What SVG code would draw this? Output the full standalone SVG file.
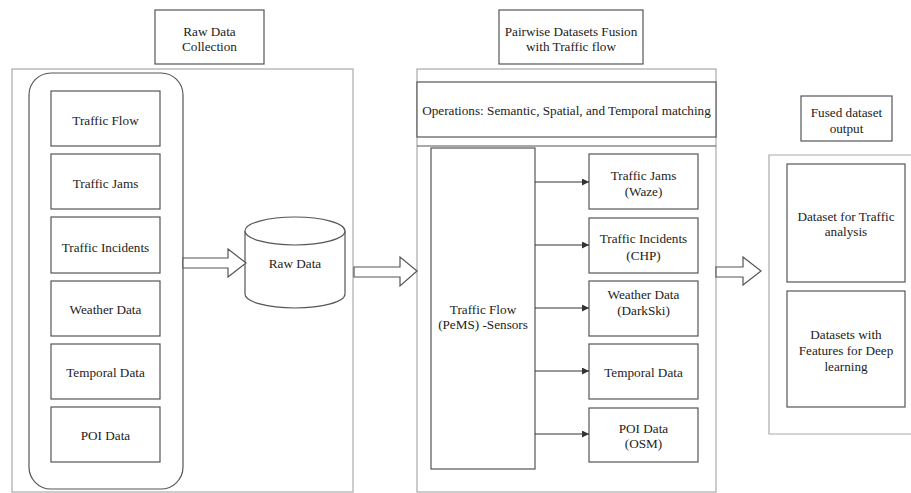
<svg xmlns="http://www.w3.org/2000/svg" width="911" height="493" viewBox="0 0 911 493">
<style>
text{font-family:"Liberation Serif","Times New Roman",serif;font-size:13.2px;fill:#222;text-anchor:middle}
.panel{fill:#fff;stroke:#aaa;stroke-width:1.2}
.box{fill:#fff;stroke:#555;stroke-width:1.2}
.conn{fill:none;stroke:#333;stroke-width:1}
.block{fill:#fff;stroke:#555;stroke-width:1.2;stroke-linejoin:miter}
</style>
<defs>
<marker id="ah" viewBox="0 0 10 10" refX="10" refY="5" markerWidth="7" markerHeight="7" orient="auto" markerUnits="userSpaceOnUse">
<path d="M0,0 L10,5 L0,10 z" fill="#333"/>
</marker>
</defs>
<rect width="911" height="493" fill="#fff"/>

<g id="panel-raw">
<rect class="panel" x="12" y="69" width="341" height="423"/>
<rect class="box" x="29" y="73" width="154" height="416" rx="22" ry="22"/>
</g>
<g id="title-raw"><rect class="box" x="155" y="10" width="109" height="54"/><text x="209.5" y="35.5">Raw Data</text><text x="209.5" y="50.5">Collection</text></g>
<g id="n-flow"><rect class="box" x="51" y="91" width="109" height="55"/><text x="105.5" y="124.5">Traffic Flow</text></g>
<g id="n-jams"><rect class="box" x="51" y="154" width="109" height="55"/><text x="105.5" y="187.5">Traffic Jams</text></g>
<g id="n-incidents"><rect class="box" x="51" y="217" width="109" height="56"/><text x="105.5" y="251.5">Traffic Incidents</text></g>
<g id="n-weather"><rect class="box" x="51" y="281" width="109" height="55"/><text x="105.5" y="313.5">Weather Data</text></g>
<g id="n-temporal"><rect class="box" x="51" y="344" width="109" height="55"/><text x="105.5" y="376.5">Temporal Data</text></g>
<g id="n-poi"><rect class="box" x="51" y="407" width="109" height="55"/><text x="105.5" y="439.5">POI Data</text></g>

<g id="n-rawdata">
<path class="box" d="M245,231 L245,294 A50,14 0 0 0 345,294 L345,231"/>
<ellipse class="box" cx="295" cy="231" rx="50" ry="14"/>
<text x="295" y="267.5">Raw Data</text>
</g>

<g id="panel-fusion">
<rect class="panel" x="417" y="69" width="299" height="423"/>
<line x1="417" y1="146" x2="716" y2="146" stroke="#555" stroke-width="1.2"/>
</g>
<g id="title-fusion"><rect class="box" x="499" y="10" width="144" height="54"/><text x="571" y="35.5">Pairwise Datasets Fusion</text><text x="571" y="50.5">with Traffic flow</text></g>
<g id="n-operations"><rect class="box" x="417" y="82" width="299" height="55"/><text x="566.5" y="114.5">Operations: Semantic, Spatial, and Temporal matching</text></g>
<g id="n-pems"><rect class="box" x="431" y="148" width="104" height="321"/><text x="483" y="313.5">Traffic Flow</text><text x="483" y="328.5">(PeMS) -Sensors</text></g>
<g id="n-waze"><rect class="box" x="589" y="154" width="109" height="55"/><text x="643.5" y="179.5">Traffic Jams</text><text x="643.5" y="196">(Waze)</text></g>
<g id="n-chp"><rect class="box" x="589" y="218" width="109" height="55"/><text x="643.5" y="243">Traffic Incidents</text><text x="643.5" y="259.5">(CHP)</text></g>
<g id="n-darksky"><rect class="box" x="589" y="281" width="109" height="55"/><text x="643.5" y="298.5">Weather Data</text><text x="643.5" y="315">(DarkSki)</text></g>
<g id="n-temporal2"><rect class="box" x="589" y="344" width="109" height="55"/><text x="643.5" y="376.5">Temporal Data</text></g>
<g id="n-osm"><rect class="box" x="589" y="408" width="109" height="54"/><text x="643.5" y="432.5">POI Data</text><text x="643.5" y="447.5">(OSM)</text></g>

<g id="panel-output">
<path class="panel" d="M911,155 L769,155 L769,434 L911,434"/>
</g>
<g id="title-output"><rect class="box" x="801" y="96" width="91" height="45"/><text x="846.5" y="116.5">Fused dataset</text><text x="846.5" y="132.5">output</text></g>
<g id="n-analysis"><rect class="box" x="787" y="164" width="118" height="118"/><text x="846" y="220.5">Dataset for Traffic</text><text x="846" y="235.5">analysis</text></g>
<g id="n-deep"><rect class="box" x="787" y="291" width="118" height="116"/><text x="846" y="338.5">Datasets with</text><text x="846" y="354.5">Features for Deep</text><text x="846" y="370.5">learning</text></g>

<g id="connectors">
<path class="block" d="M183,258 L228,258 L228,249 L246,263 L228,277 L228,268 L183,268 Z"/>
<path class="block" d="M354,267 L400,267 L400,257 L417,271 L400,286 L400,277 L354,277 Z"/>
<path class="block" d="M716,267 L743,267 L743,257 L761,271 L743,285 L743,277 L716,277 Z"/>
<line class="conn" x1="535" y1="182" x2="589" y2="182" marker-end="url(#ah)"/>
<line class="conn" x1="535" y1="245" x2="589" y2="245" marker-end="url(#ah)"/>
<line class="conn" x1="535" y1="308" x2="589" y2="308" marker-end="url(#ah)"/>
<line class="conn" x1="535" y1="371" x2="589" y2="371" marker-end="url(#ah)"/>
<line class="conn" x1="535" y1="434" x2="589" y2="434" marker-end="url(#ah)"/>
</g>
</svg>
